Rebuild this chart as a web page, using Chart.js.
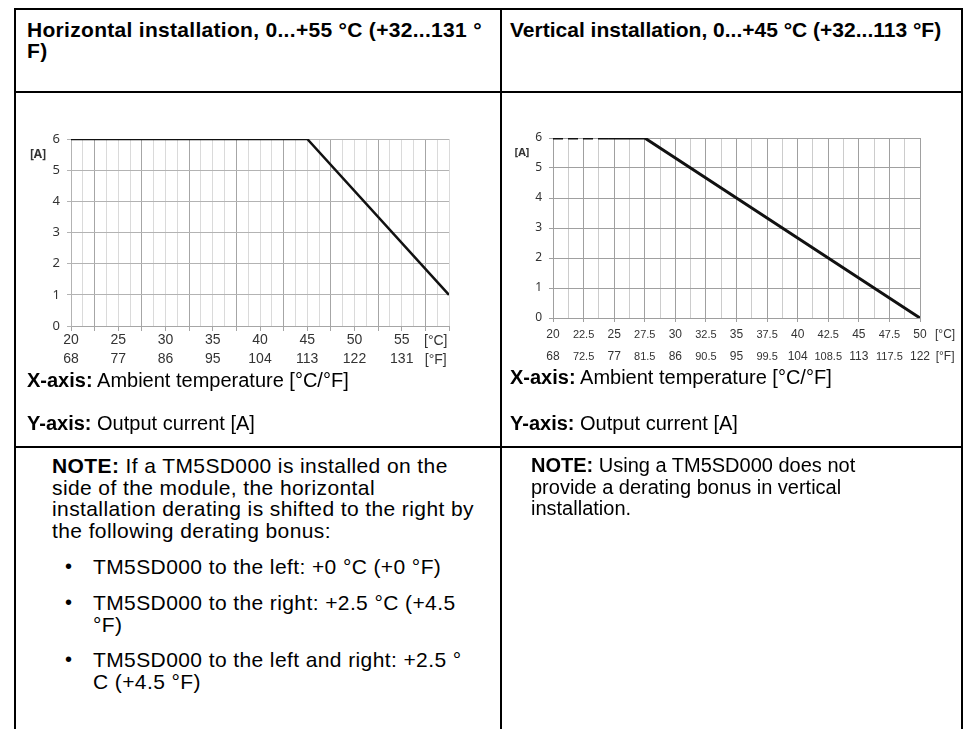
<!DOCTYPE html>
<html lang="en">
<head>
<meta charset="UTF-8">
<title>Output current derating</title>
<script src="https://cdn.jsdelivr.net/npm/chart.js@4.4.1/dist/chart.umd.min.js"></script>
<style>
    body {
        margin: 0;
        background: #fff;
        font-family: "Liberation Sans", Arial, Helvetica, sans-serif;
        color: #000;
    }
    #page { position: relative; width: 971px; height: 729px; overflow: hidden; }
    .ln { position: absolute; background: #000; }
    .txt { position: absolute; white-space: nowrap; font-size: 20px; line-height: 21.7px; }
    .hd { font-weight: bold; font-size: 21px; line-height: 21px; }
    .wide { font-size: 21px; letter-spacing: 0.4px; }
    .box { position: absolute; }
</style>
<script>
// horizontal mounting: output current [A] against ambient temperature [°C]
var horizTemp = [20, 45, 60];
var horizCurrent = [6, 6, 1];

// vertical mounting: dashed start, then the derating line
var vertDashTemp = [20, 24.5];
var vertDashCurrent = [6, 6];
var vertTemp = [24.5, 27.5, 50];
var vertCurrent = [6, 6, 0];

// axis labels
var horizTicksC = [20, 25, 30, 35, 40, 45, 50, 55];
var horizTicksF = ['68', '77', '86', '95', '104', '113', '122', '131'];
var vertTicksC = [20, 22.5, 25, 27.5, 30, 32.5, 35, 37.5, 40, 42.5, 45, 47.5, 50];
var vertTicksF = ['68', '72.5', '77', '81.5', '86', '90.5', '95', '99.5', '104', '108.5', '113', '117.5', '122'];
var currentTicks = [0, 1, 2, 3, 4, 5, 6];
</script>
</head>
<body>
<div id="page">
    <!-- table frame -->
    <div class="ln" style="left:14px; top:8px; width:949px; height:2px;"></div>
    <div class="ln" style="left:14px; top:91px; width:949px; height:2px;"></div>
    <div class="ln" style="left:14px; top:446px; width:949px; height:2px;"></div>
    <div class="ln" style="left:14px; top:8px; width:2px; height:721px;"></div>
    <div class="ln" style="left:500px; top:8px; width:2px; height:721px;"></div>
    <div class="ln" style="left:961px; top:8px; width:2px; height:721px;"></div>

    <div class="txt hd" style="left:27px; top:19px; letter-spacing:0.3px;">Horizontal installation, 0...+55 °C (+32...131 °<br>F)</div>
    <div class="txt hd" style="left:510px; top:19px;">Vertical installation, 0...+45 °C (+32...113 °F)</div>

    <div class="box" style="left:20px; top:120px;"><canvas id="horiz" width="470" height="250"></canvas></div>
    <div class="box" style="left:500px; top:118px;"><canvas id="vert" width="465" height="250"></canvas></div>

    <div class="txt" style="left:27px; top:370px;"><b>X-axis:</b> Ambient temperature [°C/°F]</div>
    <div class="txt" style="left:27px; top:413px;"><b>Y-axis:</b> Output current [A]</div>
    <div class="txt" style="left:510px; top:367px;"><b>X-axis:</b> Ambient temperature [°C/°F]</div>
    <div class="txt" style="left:510px; top:413px;"><b>Y-axis:</b> Output current [A]</div>

    <div class="txt wide" style="left:52px; top:455px;"><b>NOTE:</b> If a TM5SD000 is installed on the<br>side of the module, the horizontal<br>installation derating is shifted to the right by<br>the following derating bonus:</div>
    <div class="txt" style="left:65px; top:556px;">•</div>
    <div class="txt wide" style="left:93px; top:556px;">TM5SD000 to the left: +0 °C (+0 °F)</div>
    <div class="txt" style="left:65px; top:592px;">•</div>
    <div class="txt wide" style="left:93px; top:592px;">TM5SD000 to the right: +2.5 °C (+4.5<br>°F)</div>
    <div class="txt" style="left:65px; top:649px;">•</div>
    <div class="txt wide" style="left:93px; top:649px;">TM5SD000 to the left and right: +2.5 °<br>C (+4.5 °F)</div>

    <div class="txt" style="left:531px; top:455px;"><b>NOTE:</b> Using a TM5SD000 does not<br>provide a derating bonus in vertical<br>installation.</div>
</div>

<script>
// draws "[A]" beside the value axis and the [°C]/[°F] unit tags after the last tick label
var axisUnits = {
    id: 'axisUnits',
    afterDraw: function (chart, args, opts) {
        var ctx = chart.ctx;
        var xs = chart.scales.x, ys = chart.scales.y;
        ctx.save();
        ctx.fillStyle = '#333';
        ctx.textAlign = 'center';
        ctx.textBaseline = 'middle';
        ctx.font = opts.aFont;
        ctx.fillText('[A]', chart.chartArea.left - opts.aOffset, ys.getPixelForValue(5.5));
        ctx.font = opts.unitFont;
        var ux = xs.getPixelForValue(opts.unitAt);
        ctx.fillText('[°C]', ux, chart.chartArea.bottom + opts.rows[0]);
        ctx.fillText('[°F]', ux, chart.chartArea.bottom + opts.rows[1]);
        ctx.restore();
    }
};

function points(xs, ys) {
    return xs.map(function (x, i) { return { x: x, y: ys[i] }; });
}

function stepTicks(scale, step) {
    var out = [];
    for (var v = scale.min; v <= scale.max + 1e-9; v += step) out.push({ value: v });
    scale.ticks = out;
}

function findIndex(list, v) {
    for (var i = 0; i < list.length; i++) if (Math.abs(list[i] - v) < 1e-6) return i;
    return -1;
}

function yAxis(width, color, fontSize) {
    return {
        min: 0, max: 6,
        afterBuildTicks: function (s) { s.ticks = currentTicks.map(function (v) { return { value: v }; }); },
        afterFit: function (s) { s.width = width; },
        border: { color: color },
        grid: { color: color, tickLength: 4 },
        ticks: { color: '#333', padding: 7, font: { family: '"Noto Sans", sans-serif', size: fontSize } }
    };
}

Chart.defaults.font.family = '"Liberation Sans", Arial, sans-serif';

new Chart(document.getElementById('horiz'), {
    type: 'line',
    data: {
        datasets: [{
            data: points(horizTemp, horizCurrent),
            borderColor: '#111',
            borderWidth: 2.5,
            pointRadius: 0
        }]
    },
    options: {
        responsive: false,
        animation: false,
        layout: { padding: { top: 19, right: 41, left: 0, bottom: 0 } },
        plugins: {
            legend: { display: false },
            tooltip: { enabled: false },
            axisUnits: {
                unitAt: 58.6, rows: [15, 34], aOffset: 33,
                aFont: 'bold 12px "Noto Sans", sans-serif',
                unitFont: '14px "Liberation Sans", Arial, sans-serif'
            }
        },
        scales: {
            x: {
                type: 'linear', min: 20, max: 60,
                afterBuildTicks: function (s) { stepTicks(s, 1.25); },
                afterFit: function (s) { s.height = 44; },
                border: { color: '#a6a6a6' },
                grid: {
                    tickLength: 5,
                    color: function (c) { return (c.tick.value - 22.5) % 5 === 0 ? '#a6a6a6' : '#dadada'; },
                    tickColor: function (c) { return c.tick.value % 2.5 === 0 ? '#a6a6a6' : 'rgba(0,0,0,0)'; }
                },
                ticks: {
                    autoSkip: false, maxRotation: 0, padding: 0,
                    color: '#333',
                    font: { size: 14, lineHeight: '19px' },
                    callback: function (v) {
                        var i = findIndex(horizTicksC, v);
                        return i < 0 ? '' : [String(horizTicksC[i]), horizTicksF[i]];
                    }
                }
            },
            y: yAxis(51, '#b3b3b3', 13)
        }
    },
    plugins: [axisUnits]
});

new Chart(document.getElementById('vert'), {
    type: 'line',
    data: {
        datasets: [{
            data: points(vertDashTemp, vertDashCurrent),
            borderColor: '#111',
            borderWidth: 3,
            borderDash: [10, 5],
            pointRadius: 0
        }, {
            data: points(vertTemp, vertCurrent),
            borderColor: '#111',
            borderWidth: 3,
            pointRadius: 0
        }]
    },
    options: {
        responsive: false,
        animation: false,
        layout: { padding: { top: 20, right: 45, left: 0, bottom: 0 } },
        plugins: {
            legend: { display: false },
            tooltip: { enabled: false },
            axisUnits: {
                unitAt: 52.05, rows: [17, 39], aOffset: 31,
                aFont: 'bold 11px "Noto Sans", sans-serif',
                unitFont: '12px "Liberation Sans", Arial, sans-serif'
            }
        },
        scales: {
            x: {
                type: 'linear', min: 20, max: 50,
                afterBuildTicks: function (s) { stepTicks(s, 1.25); },
                afterFit: function (s) { s.height = 50; },
                border: { color: '#9e9e9e' },
                grid: {
                    tickLength: 4,
                    color: function (c) { return c.tick.value % 2.5 === 0 ? '#a0a0a0' : '#cccccc'; },
                    tickColor: function (c) { return c.tick.value % 2.5 === 0 ? '#9e9e9e' : 'rgba(0,0,0,0)'; }
                },
                ticks: {
                    autoSkip: false, maxRotation: 0, padding: 2,
                    color: '#333',
                    font: function (c) {
                        var half = c.tick && c.tick.value % 1 !== 0;
                        return half
                            ? { family: '"Liberation Sans Narrow", "Liberation Sans", sans-serif', size: 11, lineHeight: '22px' }
                            : { family: '"Liberation Sans", Arial, sans-serif', size: 12, lineHeight: '22px' };
                    },
                    callback: function (v) {
                        var i = findIndex(vertTicksC, v);
                        return i < 0 ? '' : [String(vertTicksC[i]), vertTicksF[i]];
                    }
                }
            },
            y: yAxis(53, '#a0a0a0', 12)
        }
    },
    plugins: [axisUnits]
});
</script>
</body>
</html>
